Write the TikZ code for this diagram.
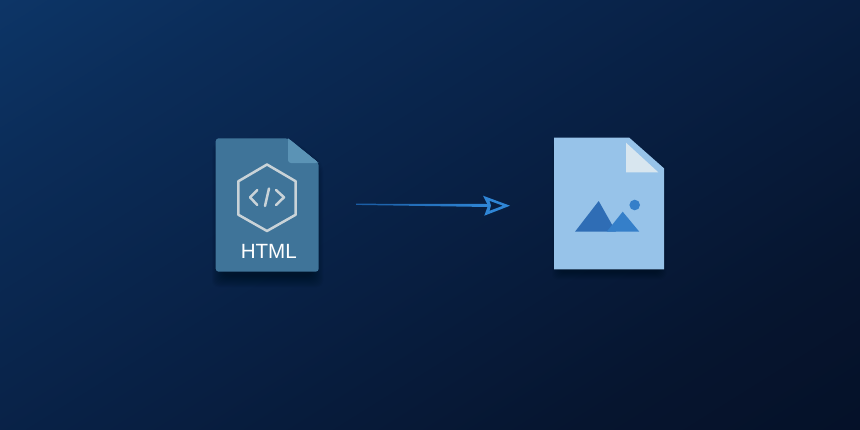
\documentclass[tikz,border=0pt]{standalone}
\usepackage{fontspec}
\setmainfont{Liberation Sans}
\usetikzlibrary{calc}
\definecolor{bgtop}{HTML}{0F4078}
\definecolor{bgup}{HTML}{0B2C58}
\definecolor{bgmid}{HTML}{082044}
\definecolor{bglow}{HTML}{06152F}
\definecolor{bgend}{HTML}{040C20}
\definecolor{htmlbody}{HTML}{3F7499}
\definecolor{htmlfold}{HTML}{5B93B5}
\definecolor{htmlicon}{HTML}{C9D3D8}
\definecolor{imgbody}{HTML}{97C3E9}
\definecolor{imgfold}{HTML}{D8E6EF}
\definecolor{peakback}{HTML}{2F6DB5}
\definecolor{peakfront}{HTML}{357FC9}
\definecolor{arrowblue}{HTML}{2F86D6}
\definecolor{arrowdeep}{HTML}{1A5CA3}
\pgfdeclareverticalshading{bgshade}{100bp}{color(0bp)=(bgend); color(28bp)=(bglow); color(50bp)=(bgmid); color(72bp)=(bgup); color(100bp)=(bgtop)}
\tikzset{
  iconline/.style={draw=htmlicon,line width=2.5pt,line cap=round,line join=round},
  softshadow/.style={fill=black,opacity=0.03}
}
\begin{document}
\begin{tikzpicture}[x=1pt,y=-1pt]
\useasboundingbox (0,0) rectangle (860,429);
\clip (0,0) rectangle (860,429);
\shade[shading=bgshade,shading angle=32] (0,0) rectangle (860,429);
\coordinate (htmlcenter) at (267,198);
\coordinate (arrowtail) at (356,204.3);
\coordinate (arrowneck) at (488,205.5);
\coordinate (arrowtip) at (510,205.7);
\foreach \g in {1,...,12}
  \fill[softshadow,rounded corners=6pt] (224-\g,156-\g) -- (288+\g,156-\g) -- (311+\g,176-\g) -- (311+\g,275+\g) -- (224-\g,275+\g) -- cycle;
\foreach \g in {1,...,8}
  \fill[softshadow,rounded corners=4pt] (560-\g,150-\g) -- (658+\g,172-\g) -- (658+\g,271+\g) -- (560-\g,271+\g) -- cycle;
\fill[htmlbody,rounded corners=3pt] (215.7,138.3) -- (288,138.3) -- (318.7,163) -- (318.7,271.7) -- (215.7,271.7) -- cycle;
\fill[htmlfold,rounded corners=3pt] (288,138.3) -- (288,163) -- (318.7,163) -- cycle;
\fill[htmlfold] (288,138.3) -- (290,150) -- (318.7,163) -- cycle;
\draw[iconline] ($(htmlcenter)+(0,-33.5)$) -- ($(htmlcenter)+(28.7,-16.7)$) -- ($(htmlcenter)+(28.7,16.7)$) -- ($(htmlcenter)+(0,33)$) -- ($(htmlcenter)+(-28.7,16.7)$) -- ($(htmlcenter)+(-28.7,-16.7)$) -- cycle;
\draw[iconline] (257.3,190) -- (250,197.3) -- (257.3,205);
\draw[iconline] (276,190) -- (284,197.3) -- (276,205);
\draw[iconline] (269,188.5) -- (265,206);
\node[text=white,font=\fontsize{20.6}{24}\selectfont,inner sep=0pt] (htmllabel) at (268.8,251.8) {HTML};
\shade[left color=arrowdeep,right color=arrowblue] ($(arrowtail)+(0,-0.6)$) -- ($(arrowneck)+(0,-1.5)$) -- ($(arrowneck)+(0,1.5)$) -- ($(arrowtail)+(0,0.6)$) -- cycle;
\fill[arrowblue,even odd rule] (483,195.7) -- (arrowtip) -- (484.3,215.7) -- (arrowneck) -- cycle (489.5,200.8) -- (503,205.7) -- (489.5,210.8) -- (491,205.6) -- cycle;
\fill[imgbody] (554,137.7) -- (629.3,137.7) -- (664,168.3) -- (664,269.3) -- (554,269.3) -- cycle;
\fill[imgfold] (626,142.7) -- (626,172.3) -- (658.3,172.3) -- cycle;
\fill[peakback] (598.7,201) -- (616,231.7) -- (575,231.7) -- cycle;
\fill[peakfront] (622.7,211.7) -- (639.3,231.7) -- (606.7,231.7) -- cycle;
\fill[peakfront] (634.7,205) circle (5.3);
\end{tikzpicture}
\end{document}
